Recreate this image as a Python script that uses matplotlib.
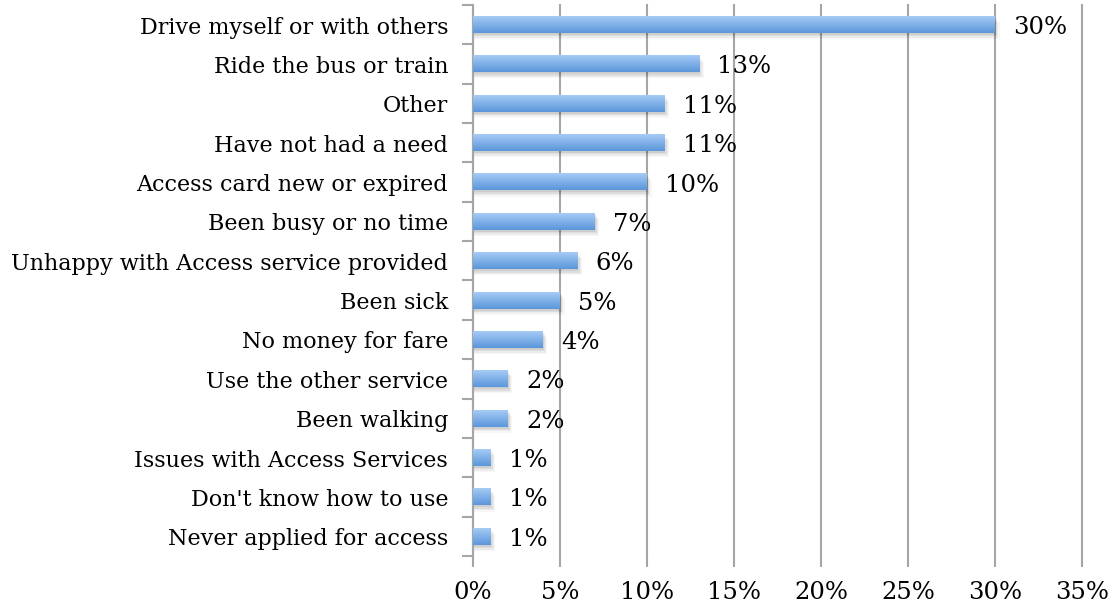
import matplotlib
import matplotlib.pyplot as plt
import matplotlib.transforms as mtransforms
import numpy as np
from matplotlib.colors import LinearSegmentedColormap
from matplotlib.patches import Rectangle

matplotlib.use('Agg')

categories = [
    "Drive myself or with others",
    "Ride the bus or train",
    "Other",
    "Have not had a need",
    "Access card new or expired",
    "Been busy or no time",
    "Unhappy with Access service provided",
    "Been sick",
    "No money for fare",
    "Use the other service",
    "Been walking",
    "Issues with Access Services",
    "Don't know how to use",
    "Never applied for access",
]
shares = [30, 13, 11, 11, 10, 7, 6, 5, 4, 2, 2, 1, 1, 1]
xticks = [0, 5, 10, 15, 20, 25, 30, 35]

plt.rcParams["font.family"] = ["DejaVu Serif"]
grid_gray = "#a6a6a6"
bar_cmap = LinearSegmentedColormap.from_list("bar", ["#5b96da", "#a6cbf6"])
gradient = np.linspace(0, 1, 64).reshape(-1, 1)

fig = plt.figure(figsize=(11.12, 6.07), dpi=100)
ax = fig.add_axes([0.4254, 0.084, 0.5476, 0.908])

# nudge text a few pixels down so it sits a bit below the bar centre
shift_down = mtransforms.ScaledTranslation(0, -3 / 100, fig.dpi_scale_trans)
label_trans = ax.get_yaxis_transform() + mtransforms.ScaledTranslation(-25 / 100, -3 / 100,
                                                                        fig.dpi_scale_trans)

n = len(categories)
ypos = np.arange(n)[::-1]
height = 0.43

for y, v, name in zip(ypos, shares, categories):
    # soft drop shadow below and right of each bar
    for k, a in enumerate([0.07, 0.06, 0.045, 0.03]):
        off = 0.05 + k * 0.035
        ax.add_patch(Rectangle((0, y - height / 2 - off), v + 0.05 + k * 0.07, height,
                               facecolor="black", alpha=a, edgecolor="none", zorder=2))
    # vertical gradient fill, lighter at the top
    ax.imshow(gradient, cmap=bar_cmap, aspect="auto", origin="lower",
              extent=(0, v, y - height / 2, y + height / 2), zorder=3)
    ax.text(v + 1.05, y, f"{v}%", va="center", ha="left", fontsize=17.5, zorder=4,
            transform=ax.transData + shift_down)
    ax.text(0, y, name, va="center", ha="right", fontsize=16,
            transform=label_trans, clip_on=False)

ax.set_xlim(0, 35)
ax.set_ylim(-0.5, n - 0.5)
ax.set_xticks(xticks)
ax.set_xticklabels([f"{t}%" for t in xticks], fontsize=17.5)
ax.set_yticks([])
ax.set_yticks(np.arange(-0.5, n, 1.0), minor=True)

ax.grid(axis="x", color=grid_gray, linewidth=1.5, zorder=1)
ax.set_axisbelow(True)
for line in ax.get_xgridlines():
    line.set_clip_on(False)
for side in ["top", "right", "bottom"]:
    ax.spines[side].set_visible(False)
ax.spines["left"].set_color(grid_gray)
ax.spines["left"].set_linewidth(1.5)

ax.tick_params(axis="x", length=8, width=1.5, color=grid_gray, pad=10)
ax.tick_params(axis="y", which="minor", length=8, width=1.5, color=grid_gray)

plt.savefig("out.png", dpi=100)
